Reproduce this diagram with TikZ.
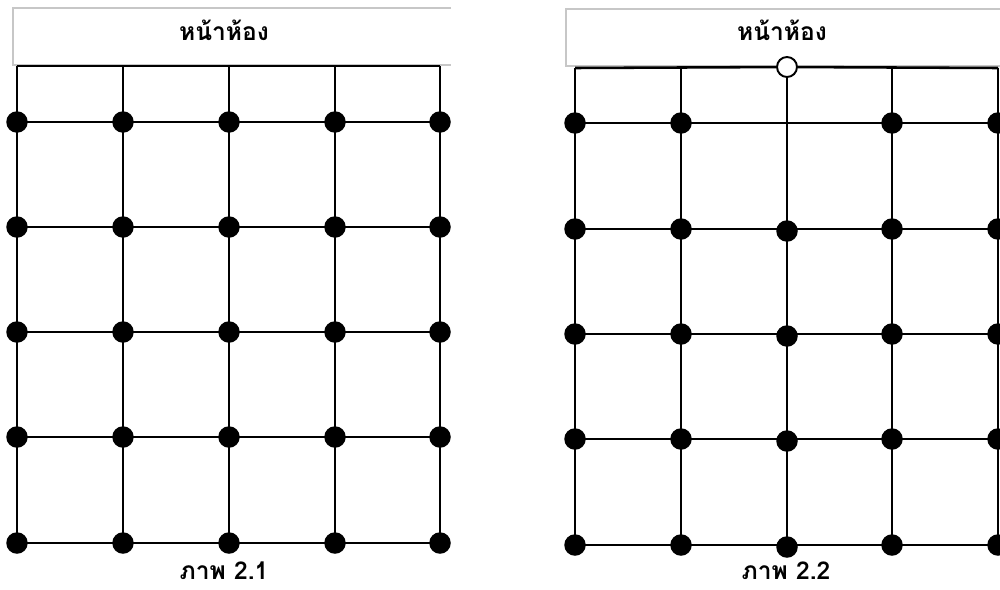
\documentclass[tikz,border=0pt]{standalone}
\usepackage{fontspec}
\newfontfamily\thaifont[Script=Thai]{Loma}

\begin{document}
\begin{tikzpicture}[
        x=0.02cm, y=-0.02cm,
        dot/.style={circle, fill=black, inner sep=0pt, minimum size=0.43cm},
        opendot/.style={circle, draw=black, fill=white, line width=1.1pt,
            inner sep=0pt, minimum size=0.40cm},
        gridline/.style={line width=1.45pt},
        hdrbox/.style={draw=black!22, line width=0.6pt},
        lbl/.style={font=\thaifont\bfseries\fontsize{14}{16}\selectfont, inner sep=0pt}
    ]

    \useasboundingbox (0,0) rectangle (1000,589);

    % Header boxes
    \draw[hdrbox] (451,8) -- (13,8) -- (13,65) -- (451,65);
    \draw[hdrbox] (1000,9) -- (566,9) -- (566,66) -- (1000,66);

    \node[lbl] (hdrA) at (224,30) {หน้าห้อง};
    \node[lbl] (hdrB) at (782,30) {หน้าห้อง};

    % Left grid (2.1)
    \foreach \c/\x in {1/17,2/123,3/229,4/335,5/440} {
        \coordinate (ta-\c) at (\x,66);
        \foreach \r/\y in {1/122,2/227,3/332,4/437,5/543}
            \node[dot] (a-\r-\c) at (\x,\y) {};
    }

    \draw[gridline] (ta-1) -- (ta-5);
    \foreach \c in {1,...,5}
        \draw[gridline] (ta-\c) -- (a-5-\c.center);
    \foreach \r in {1,...,5}
        \draw[gridline] (a-\r-1.center) -- (a-\r-5.center);

    % Right grid (2.2)
    \foreach \c/\x in {1/575,2/681,4/892,5/998} {
        \coordinate (tb-\c) at (\x,68);
        \foreach \r/\y in {1/123,2/229,3/334,4/439,5/545}
            \node[dot] (b-\r-\c) at (\x,\y) {};
    }
    \foreach \r/\y in {2/231,3/336,4/441,5/547}
        \node[dot] (b-\r-3) at (787,\y) {};

    \node[opendot] (tb-3) at (787,67) {};

    \draw[gridline] (tb-1) -- (tb-3) -- (tb-5);
    \foreach \c in {1,2,4,5}
        \draw[gridline] (tb-\c) -- (b-5-\c.center);
    \draw[gridline] (tb-3) -- (b-5-3.center);
    \foreach \r in {1,...,5}
        \draw[gridline] (b-\r-1.center) -- (b-\r-5.center);

    % Captions
    \node[lbl] (capA) at (224,571) {ภาพ 2.1};
    \node[lbl] (capB) at (786,571) {ภาพ 2.2};

\end{tikzpicture}
\end{document}
